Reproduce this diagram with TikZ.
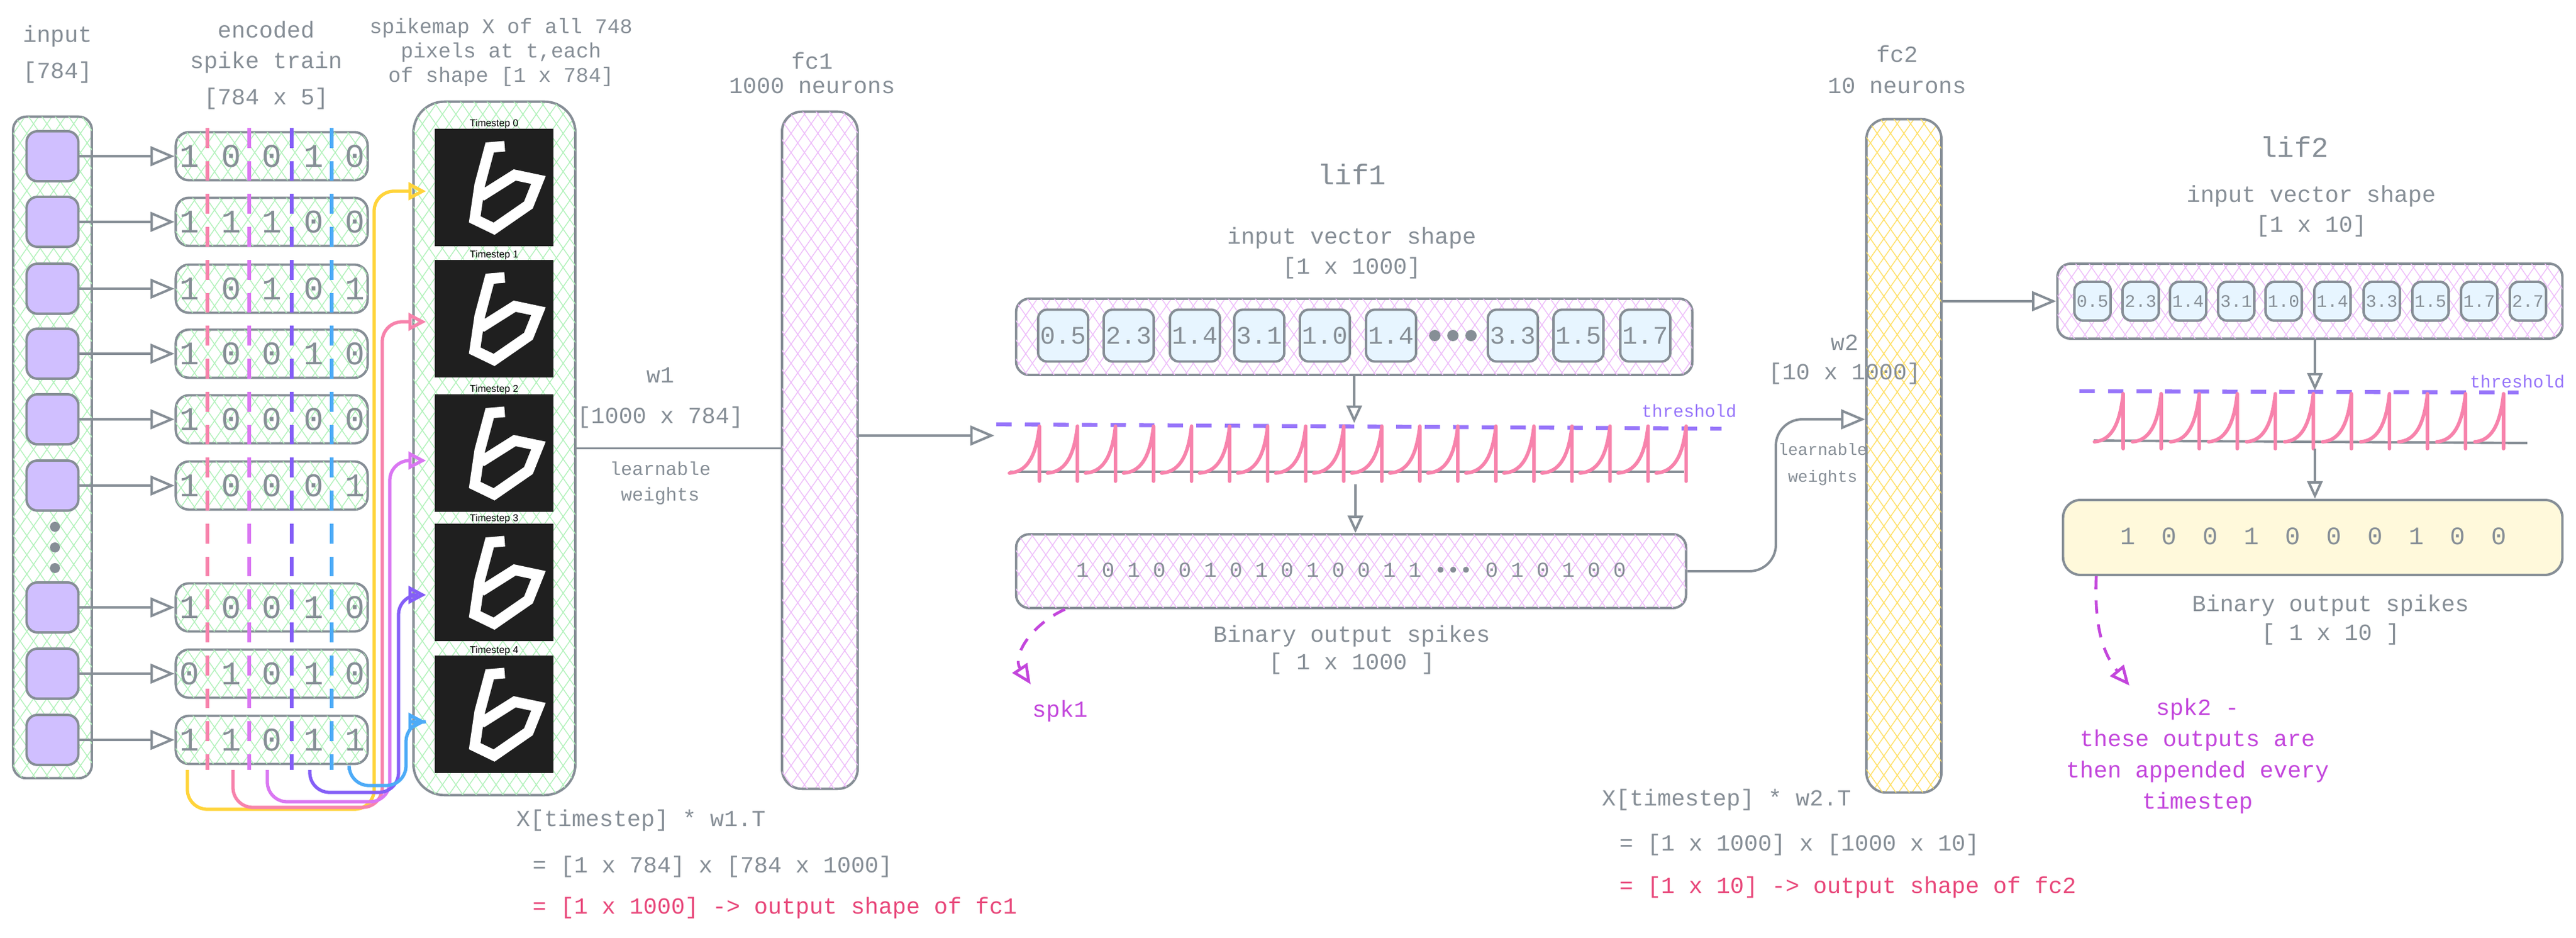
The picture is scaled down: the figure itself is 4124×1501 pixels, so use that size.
\documentclass[tikz,border=0pt]{standalone}
\usepackage{fontspec}
\setmainfont{Liberation Mono}
\newfontfamily\sansf{Liberation Sans}
\usetikzlibrary{arrows.meta,patterns.meta}
\definecolor{strk}{HTML}{868E96}
\definecolor{txtgray}{HTML}{868E96}
\definecolor{hgreen}{HTML}{B2F2BB}
\definecolor{hpink}{HTML}{EEBEFA}
\definecolor{hyellow}{HTML}{FFE066}
\definecolor{sqpurple}{HTML}{D0BFFF}
\definecolor{cellblue}{HTML}{E7F5FF}
\definecolor{outyellow}{HTML}{FFF9DB}
\definecolor{spkpink}{HTML}{F783AC}
\definecolor{thrviolet}{HTML}{9775FA}
\definecolor{redtxt}{HTML}{E8477A}
\definecolor{magtxt}{HTML}{C346DC}
\definecolor{cyel}{HTML}{FFD43B}
\definecolor{cpink}{HTML}{F783AC}
\definecolor{corch}{HTML}{DA77F2}
\definecolor{cviol}{HTML}{845EF7}
\definecolor{cblue}{HTML}{4DABF7}
\tikzset{
  lbl/.style={text=txtgray,font=\fontsize{10.5}{12}\selectfont,inner sep=0pt},
  boxs/.style={draw=strk,line width=1.1pt,rounded corners=6pt},
  hatch/.style={pattern={Lines[angle=55,distance=5pt,line width=0.4pt]},pattern color=#1,
    postaction={pattern={Lines[angle=-55,distance=5pt,line width=0.4pt]},pattern color=#1}},
  conn/.style={draw=strk,line width=1.1pt},
  arr/.style={conn,-{Triangle[open,length=11pt,width=9pt]}},
  sarr/.style={conn,-{Triangle[open,length=8pt,width=7pt]}},
  carr/.style={draw=#1,line width=1.5pt,rounded corners=9pt,-{Triangle[open,length=8pt,width=8pt]}},
  spkline/.style={draw=spkpink,line width=1.6pt,line cap=round,line join=round},
  thr/.style={draw=thrviolet,line width=1.8pt,dash pattern=on 7pt off 6pt},
  cell/.style={boxs,fill=cellblue,rounded corners=4pt,inner sep=0pt},
  dig/.style={text=txtgray,font=\fontsize{15}{16}\selectfont,inner sep=0pt},
  tsl/.style={font=\sansf\fontsize{4.5}{5}\selectfont,inner sep=0pt},
}
\begin{document}
\begin{tikzpicture}[x=0.01cm,y=-0.01cm]
\useasboundingbox (0,0) rectangle (4124,1501);
\fill[white] (0,0) rectangle (4124,1501);

% ---------- labels top-left
\node[lbl] (l1) at (92,58) {input};
\node[lbl] (l2) at (92,116) {[784]};
\node[lbl] (l3) at (426,47) {encoded};
\node[lbl] (l4) at (426,100) {spike train};
\node[lbl] (l5) at (426,158) {[784 x 5]};
\node[lbl,align=center,font=\fontsize{9.5}{11}\selectfont] (l6) at (802,84) {spikemap X of all 748\\pixels at t,each\\of shape [1 x 784]};
\node[lbl] (l7) at (1300,97) {fc1};
\node[lbl] (l8) at (1300,137) {1000 neurons};

% ---------- input column
\node[boxs,hatch=hgreen,minimum width=1.26cm,minimum height=10.58cm] (inp) at (84,716) {};
\foreach \y [count=\i] in {250,355,462,566,671,777,972,1078,1184}{
  \node[boxs,fill=sqpurple,rounded corners=5pt,minimum width=0.83cm,minimum height=0.80cm] (sq\i) at (84,\y) {};
}
\foreach \y [count=\k] in {843,876,909}{\fill[strk] (88,\y) circle (8) coordinate (dot\k);}

% ---------- spike trains
\foreach \y/\a/\b/\c/\d/\e [count=\i] in {250/1/0/0/1/0,355/1/1/1/0/0,462/1/0/1/0/1,566/1/0/0/1/0,671/1/0/0/0/0,777/1/0/0/0/1,972/1/0/0/1/0,1078/0/1/0/1/0,1184/1/1/0/1/1}{
  \node[boxs,hatch=hgreen,minimum width=3.07cm,minimum height=0.77cm] (tr\i) at (435,\y) {};
  \node[dig] at (303,\y) {\a};
  \node[dig] at (370,\y) {\b};
  \node[dig] at (435,\y) {\c};
  \node[dig] at (502,\y) {\d};
  \node[dig] at (568,\y) {\e};
  \draw[arr] (sq\i.east) -- (tr\i.west);
}
\foreach \x/\c in {332/cpink,399/corch,467/cviol,531/cblue}{
  \draw[draw=\c,line width=1.6pt,dash pattern=on 9pt off 6pt] (\x,205) -- (\x,1232);
}

% ---------- spikemap
\node[boxs,hatch=hgreen,rounded corners=14pt,minimum width=2.59cm,minimum height=11.09cm] (smap) at (791.5,717.5) {};
\foreach \y [count=\i from 0] in {300,510,725,932,1143}{
  \node[fill=black!88,minimum width=1.90cm,minimum height=1.88cm,inner sep=0pt] (img\i) at (791,\y) {};
  \node[tsl] at (791,\y-102) {Timestep \i};
  \begin{scope}[shift={(696,\y-94)}]
    \draw[white,line width=0.17cm,line join=miter,line cap=butt]
      (112,28) -- (88,30) -- (72,90) -- (64,145) -- (95,160) -- (150,122) -- (166,82) -- (128,74) -- (74,108);
    \fill[black!88] (110,110) rectangle (122,120);
  \end{scope}
}
% colored connectors
\coordinate (ys) at (300,1232); \coordinate (ps) at (373,1232); \coordinate (os) at (428,1232);
\coordinate (vs) at (496,1232); \coordinate (bs) at (559,1232);
\draw[carr=cyel] (ys) -- (300,1295) -- (599,1295) -- (599,306) -- (682,306);
\draw[carr=cpink] (ps) -- (373,1292) -- (612,1292) -- (612,515) -- (682,515);
\draw[carr=corch] (os) -- (428,1283) -- (624,1283) -- (624,737) -- (682,737);
\draw[carr=cviol] (vs) -- (496,1268) -- (638,1268) -- (638,952) -- (682,952);
\draw[carr=cblue] (bs) -- (559,1257) -- (650,1257) -- (650,1155) -- (682,1155);

% ---------- fc1
\node[boxs,hatch=hpink,rounded corners=9pt,minimum width=1.21cm,minimum height=10.83cm] (fc1) at (1312.5,720.5) {};
\draw[conn] (smap.east) -- (smap.east -| fc1.west);
\node[lbl] (w1) at (1057,600) {w1};
\node[lbl] (w1s) at (1057,668) {[1000 x 784]};
\node[lbl,font=\fontsize{8.5}{10}\selectfont] (lw1) at (1057,750) {learnable};
\node[lbl,font=\fontsize{8.5}{10}\selectfont] (lw2) at (1057,794) {weights};

% ---------- lif1
\node[lbl,font=\fontsize{13}{14}\selectfont] (lif1) at (2164,279) {lif1};
\node[lbl] (iv1) at (2164,381) {input vector shape};
\node[lbl] (iv1s) at (2164,429) {[1 x 1000]};
\node[boxs,hatch=hpink,minimum width=10.82cm,minimum height=1.22cm] (lin1) at (2168,539) {};
\foreach \x/\v [count=\i] in {1702/0.5,1807/2.3,1913/1.4,2016/3.1,2121/1.0,2227/1.4,2422/3.3,2527/1.5,2634/1.7}{
  \node[cell,minimum width=0.80cm,minimum height=0.83cm,text=txtgray,font=\fontsize{11.5}{12}\selectfont] (c1\i) at (\x,537) {\v};
}
\foreach \x in {2297,2326,2355}{\fill[strk] (\x,537) circle (9);}
\coordinate (wv1) at (1592,697);
\draw[arr] (fc1.east |- wv1) -- (wv1);
\draw[thr] (1595,679) -- (2756,686);
\node[text=thrviolet,font=\fontsize{8}{9}\selectfont,inner sep=0pt] (th1) at (2704,657) {threshold};
\draw[conn] (1617,755) -- (2696,755);
\foreach \i in {0,...,17}{
  \pgfmathsetmacro\p{1664+60.9*\i}
  \draw[spkline] (\p-48,757) .. controls (\p-22,755) and (\p-6,735) .. (\p,682) -- (\p,770);
}
\coordinate (wt1) at (2168,677);
\draw[sarr] (lin1.south) -- (wt1);
\coordinate (wb1) at (2170,775);
\node[boxs,hatch=hpink,minimum width=10.72cm,minimum height=1.18cm] (lout1) at (2163,914) {};
\draw[sarr] (wb1) -- (lout1.north -| wb1);
\node[lbl,font=\fontsize{9.7}{11}\selectfont] at (2163,912) {1 0 1 0 0 1 0 1 0 1 0 0 1 1 ••• 0 1 0 1 0 0};
\node[lbl] (bo1) at (2164,1018) {Binary output spikes};
\node[lbl] (bo1s) at (2164,1062) {[ 1 x 1000 ]};
\coordinate (sp1a) at (1705,975);
\coordinate (sp1b) at (1650,1095);
\draw[draw=magtxt,line width=1.3pt,dash pattern=on 6pt off 5pt,-{Triangle[open,length=9pt,width=8pt]}] (sp1a) .. controls (1650,1000) and (1620,1050) .. (sp1b);
\node[text=magtxt,font=\fontsize{10.5}{12}\selectfont,inner sep=0pt] (spk1) at (1697,1138) {spk1};

% formulas 1
\node[lbl,anchor=west] (f1) at (826,1313) {X[timestep] * w1.T};
\node[lbl,anchor=west] (f2) at (852,1387) {= [1 x 784] x [784 x 1000]};
\node[lbl,anchor=west,text=redtxt] (f3) at (852,1453) {= [1 x 1000] -> output shape of fc1};

% ---------- fc2
\node[lbl] (l9) at (3037,86) {fc2};
\node[lbl] (l10) at (3037,137) {10 neurons};
\node[boxs,hatch=hyellow,rounded corners=9pt,minimum width=1.20cm,minimum height=10.77cm] (fc2) at (3048,729.5) {};
\node[lbl] (w2) at (2953,548) {w2};
\node[lbl] (w2s) at (2953,598) {[10 x 1000]};
\node[lbl,font=\fontsize{7.5}{9}\selectfont] (lw3) at (2918,719) {learnable};
\node[lbl,font=\fontsize{7.5}{9}\selectfont] (lw4) at (2918,765) {weights};
\coordinate (k1) at (2843,914); \coordinate (k2) at (2843,671);
\draw[arr,rounded corners=12pt] (lout1.east) -- (k1) -- (k2) -- (k2 -| fc2.west);

\node[lbl,anchor=west] (f4) at (2564,1280) {X[timestep] * w2.T};
\node[lbl,anchor=west] (f5) at (2592,1352) {= [1 x 1000] x [1000 x 10]};
\node[lbl,anchor=west,text=redtxt] (f6) at (2592,1420) {= [1 x 10] -> output shape of fc2};

% ---------- lif2
\node[lbl,font=\fontsize{13}{14}\selectfont] (lif2) at (3673,235) {lif2};
\node[lbl] (iv2) at (3700,314) {input vector shape};
\node[lbl] (iv2s) at (3700,362) {[1 x 10]};
\node[boxs,hatch=hpink,minimum width=8.08cm,minimum height=1.20cm] (lin2) at (3698,482) {};
\foreach \x/\v [count=\i] in {3350/0.5,3427/2.3,3503/1.4,3580/3.1,3656/1.0,3734/1.4,3813/3.3,3891/1.5,3969/1.7,4047/2.7}{
  \node[cell,minimum width=0.58cm,minimum height=0.62cm,text=txtgray,font=\fontsize{8}{9}\selectfont] (c2\i) at (\x,482) {\v};
}
\draw[arr] (fc2.east |- lin2.west) -- (lin2.west);
\draw[thr] (3329,626) -- (4032,628);
\node[text=thrviolet,font=\fontsize{8}{9}\selectfont,inner sep=0pt] (th2) at (4030,610) {threshold};
\draw[conn] (3352,705) -- (4046,709);
\foreach \i in {0,...,10}{
  \pgfmathsetmacro\p{3399+60.9*\i}
  \draw[spkline] (\p-46,707) .. controls (\p-22,705) and (\p-6,685) .. (\p,630) -- (\p,718);
}
\coordinate (wt2) at (3706,625);
\draw[sarr] (lin2.south -| wt2) -- (wt2);
\coordinate (wb2) at (3706,718);
\node[boxs,fill=outyellow,rounded corners=8pt,minimum width=7.99cm,minimum height=1.20cm] (lout2) at (3702.5,860) {};
\draw[sarr] (wb2) -- (lout2.north -| wb2);
\foreach \x/\v in {3407/1,3473/0,3539/0,3605/1,3671/0,3737/0,3803/0,3869/1,3935/0,4001/0}{
  \node[lbl,font=\fontsize{11.5}{12}\selectfont] at (\x,858) {\v};
}
\node[lbl] (bo2) at (3731,969) {Binary output spikes};
\node[lbl] (bo2s) at (3731,1015) {[ 1 x 10 ]};
\coordinate (sp2a) at (3356,922);
\coordinate (sp2b) at (3409,1097);
\draw[draw=magtxt,line width=1.3pt,dash pattern=on 6pt off 5pt,-{Triangle[open,length=9pt,width=8pt]}] (sp2a) .. controls (3352,1010) and (3370,1050) .. (sp2b);
\node[text=magtxt,font=\fontsize{10.5}{14.2}\selectfont,inner sep=0pt,align=center] (spk2) at (3518,1210) {spk2 -\\these outputs are\\then appended every\\timestep};
\end{tikzpicture}
\end{document}
